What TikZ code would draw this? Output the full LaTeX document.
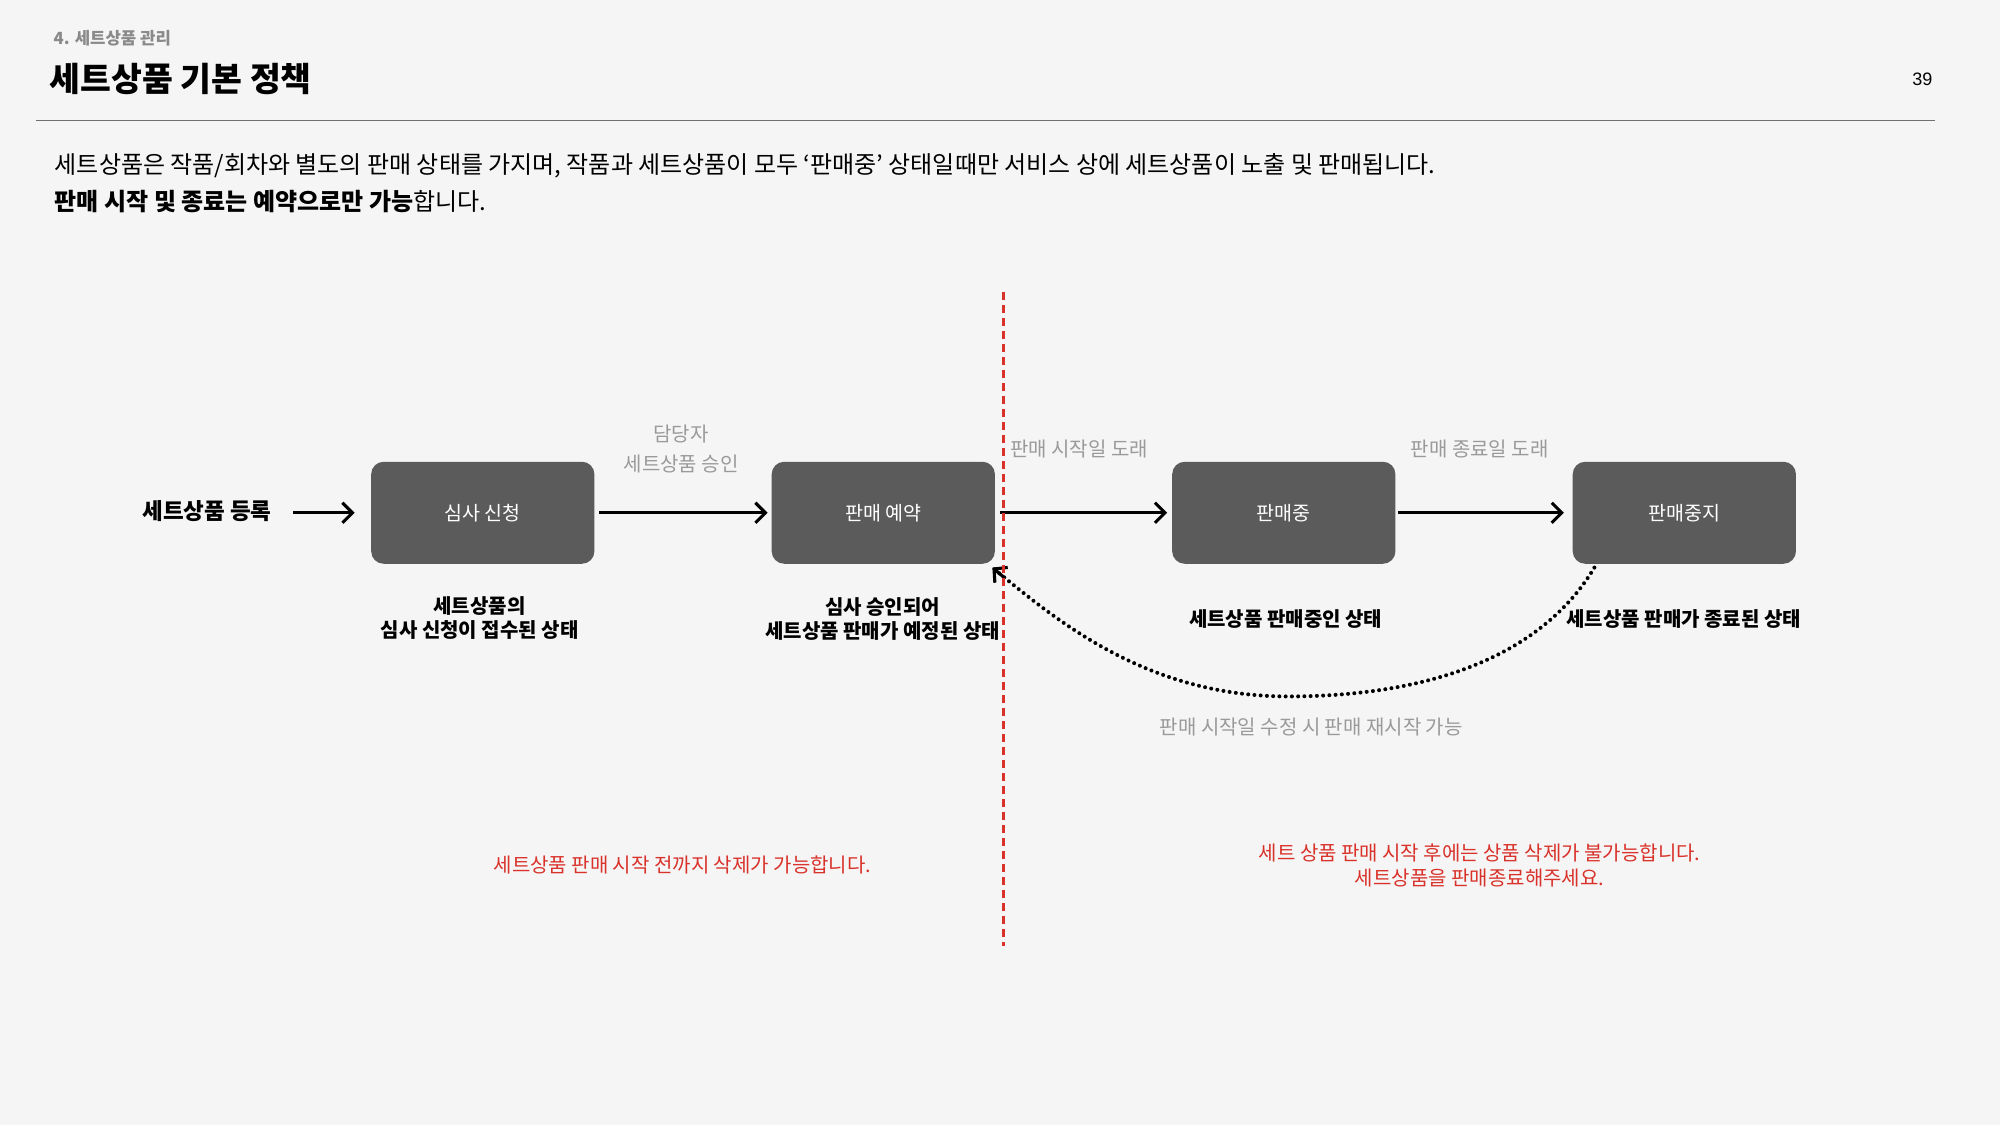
\documentclass[tikz,border=0pt]{standalone}
\usepackage{fontspec}
\setmainfont{Noto Sans CJK KR}
\newfontfamily\latinfont{Liberation Sans}
\usetikzlibrary{arrows.meta,calc}
\definecolor{bgc}{HTML}{F5F5F5}
\definecolor{boxc}{HTML}{5B5B5B}
\definecolor{grayt}{HTML}{9A9A9A}
\definecolor{redc}{HTML}{D9322A}
\definecolor{rulec}{HTML}{707070}
\definecolor{subc}{HTML}{8A8A8A}
\begin{document}
\begin{tikzpicture}[x=0.5102pt,y=-0.5102pt,
  every node/.style={inner sep=0pt,outer sep=0pt},
  statebox/.style={fill=boxc, rounded corners=5pt, minimum width=89.3pt, minimum height=40.8pt,
    text=white, font=\fontsize{7.8}{9}\selectfont},
  desc/.style={font=\fontsize{8}{9.7}\selectfont\bfseries, align=center, text=black},
  glabel/.style={font=\fontsize{8}{12.2}\selectfont, align=center, text=grayt},
  rlabel/.style={font=\fontsize{8}{9.7}\selectfont, align=center, text=redc},
  arr/.style={draw=black, line width=1.25pt, -{Straight Barb[length=4pt,width=8pt]}},
  dotline/.style={draw=black, line width=1.6pt, line cap=round, dash pattern=on 0pt off 2.5pt},
  tiponly/.style={draw=black, line width=1.25pt, solid, -{Straight Barb[length=3.8pt,width=8pt]}},
  reddash/.style={draw=redc, line width=1.2pt, dash pattern=on 3.2pt off 2pt}
]
\fill[bgc] (0,0) rectangle (1568,882);
\useasboundingbox (0,0) rectangle (1568,882);

% header
\node[anchor=west, text=subc, font=\fontsize{6.7}{8}\selectfont\bfseries] (sub) at (42,30) {4. 세트상품 관리};
\node[anchor=west, font=\fontsize{13.4}{16}\selectfont\bfseries] (title) at (39,62) {세트상품 기본 정책};
\node[anchor=east, font=\fontsize{7.2}{9}\selectfont\latinfont] (pnum) at (1515,62) {39};
\coordinate (rl) at (28,94.5);
\coordinate (rr) at (1517,94.5);
\draw[rulec, line width=0.6pt] (rl) -- (rr);

\node[anchor=west, font=\fontsize{9.6}{11}\selectfont] (para1) at (43,130) {세트상품은 작품/회차와 별도의 판매 상태를 가지며, 작품과 세트상품이 모두 ‘판매중’ 상태일때만 서비스 상에 세트상품이 노출 및 판매됩니다.};
\node[anchor=west, font=\fontsize{9.6}{11}\selectfont] (para2) at (43,158) {{\bfseries 판매 시작 및 종료는 예약으로만 가능}합니다.};

% flow
\node[anchor=east, font=\fontsize{9}{10}\selectfont\bfseries] (reg) at (213,401) {세트상품 등록};
\node[statebox] (apply) at (378.5,402) {심사 신청};
\node[statebox] (resv) at (692.5,402) {판매 예약};
\node[statebox] (sell) at (1006.5,402) {판매중};
\node[statebox] (stop) at (1320.5,402) {판매중지};

\draw[arr, shorten <=8.7pt, shorten >=6.6pt] (reg.east |- apply.west) -- (apply.west);
\draw[arr, shorten <=2pt, shorten >=1.6pt] (apply.east) -- (resv.west);
\draw[arr, shorten <=2pt, shorten >=2pt] (resv.east) -- (sell.west);
\draw[arr, shorten <=1pt, shorten >=3.5pt] (sell.east) -- (stop.west);

\node[glabel] (lab1) at (534,352) {담당자\\세트상품 승인};
\node[glabel] (lab2) at (846,352) {판매 시작일 도래};
\node[glabel] (lab3) at (1160,352) {판매 종료일 도래};

\node[desc] (d1) at (376,484.5) {세트상품의\\심사 신청이 접수된 상태};
\node[desc] (d2) at (692,485.5) {심사 승인되어\\세트상품 판매가 예정된 상태};
\node[desc] (d3) at (1008,485) {세트상품 판매중인 상태};
\node[desc] (d4) at (1320,485) {세트상품 판매가 종료된 상태};

% return curve
\coordinate (cs) at ($(stop.south west)+(17,3)$);
\coordinate (cb) at (1010,546);
\coordinate (ce) at ($(resv.south east)+(-2,3)$);
\coordinate (ct) at ($(ce)+(10,8.4)$);
\draw[dotline] (cs) .. controls (1205,520) and (1110,546) .. (cb)
  .. controls (900,546) and (830,488) .. (ce);
\draw[tiponly] (ct) -- (ce);
\node[glabel] (lab4) at (1028,570) {판매 시작일 수정 시 판매 재시작 가능};

% red divider
\coordinate (vt) at (787,229);
\coordinate (vb) at (787,742);
\draw[reddash] (vt) -- (vb);

\node[rlabel] (r1) at (535,678) {세트상품 판매 시작 전까지 삭제가 가능합니다.};
\node[rlabel] (r2) at (1160,678.5) {세트 상품 판매 시작 후에는 상품 삭제가 불가능합니다.\\세트상품을 판매종료해주세요.};
\end{tikzpicture}
\end{document}
